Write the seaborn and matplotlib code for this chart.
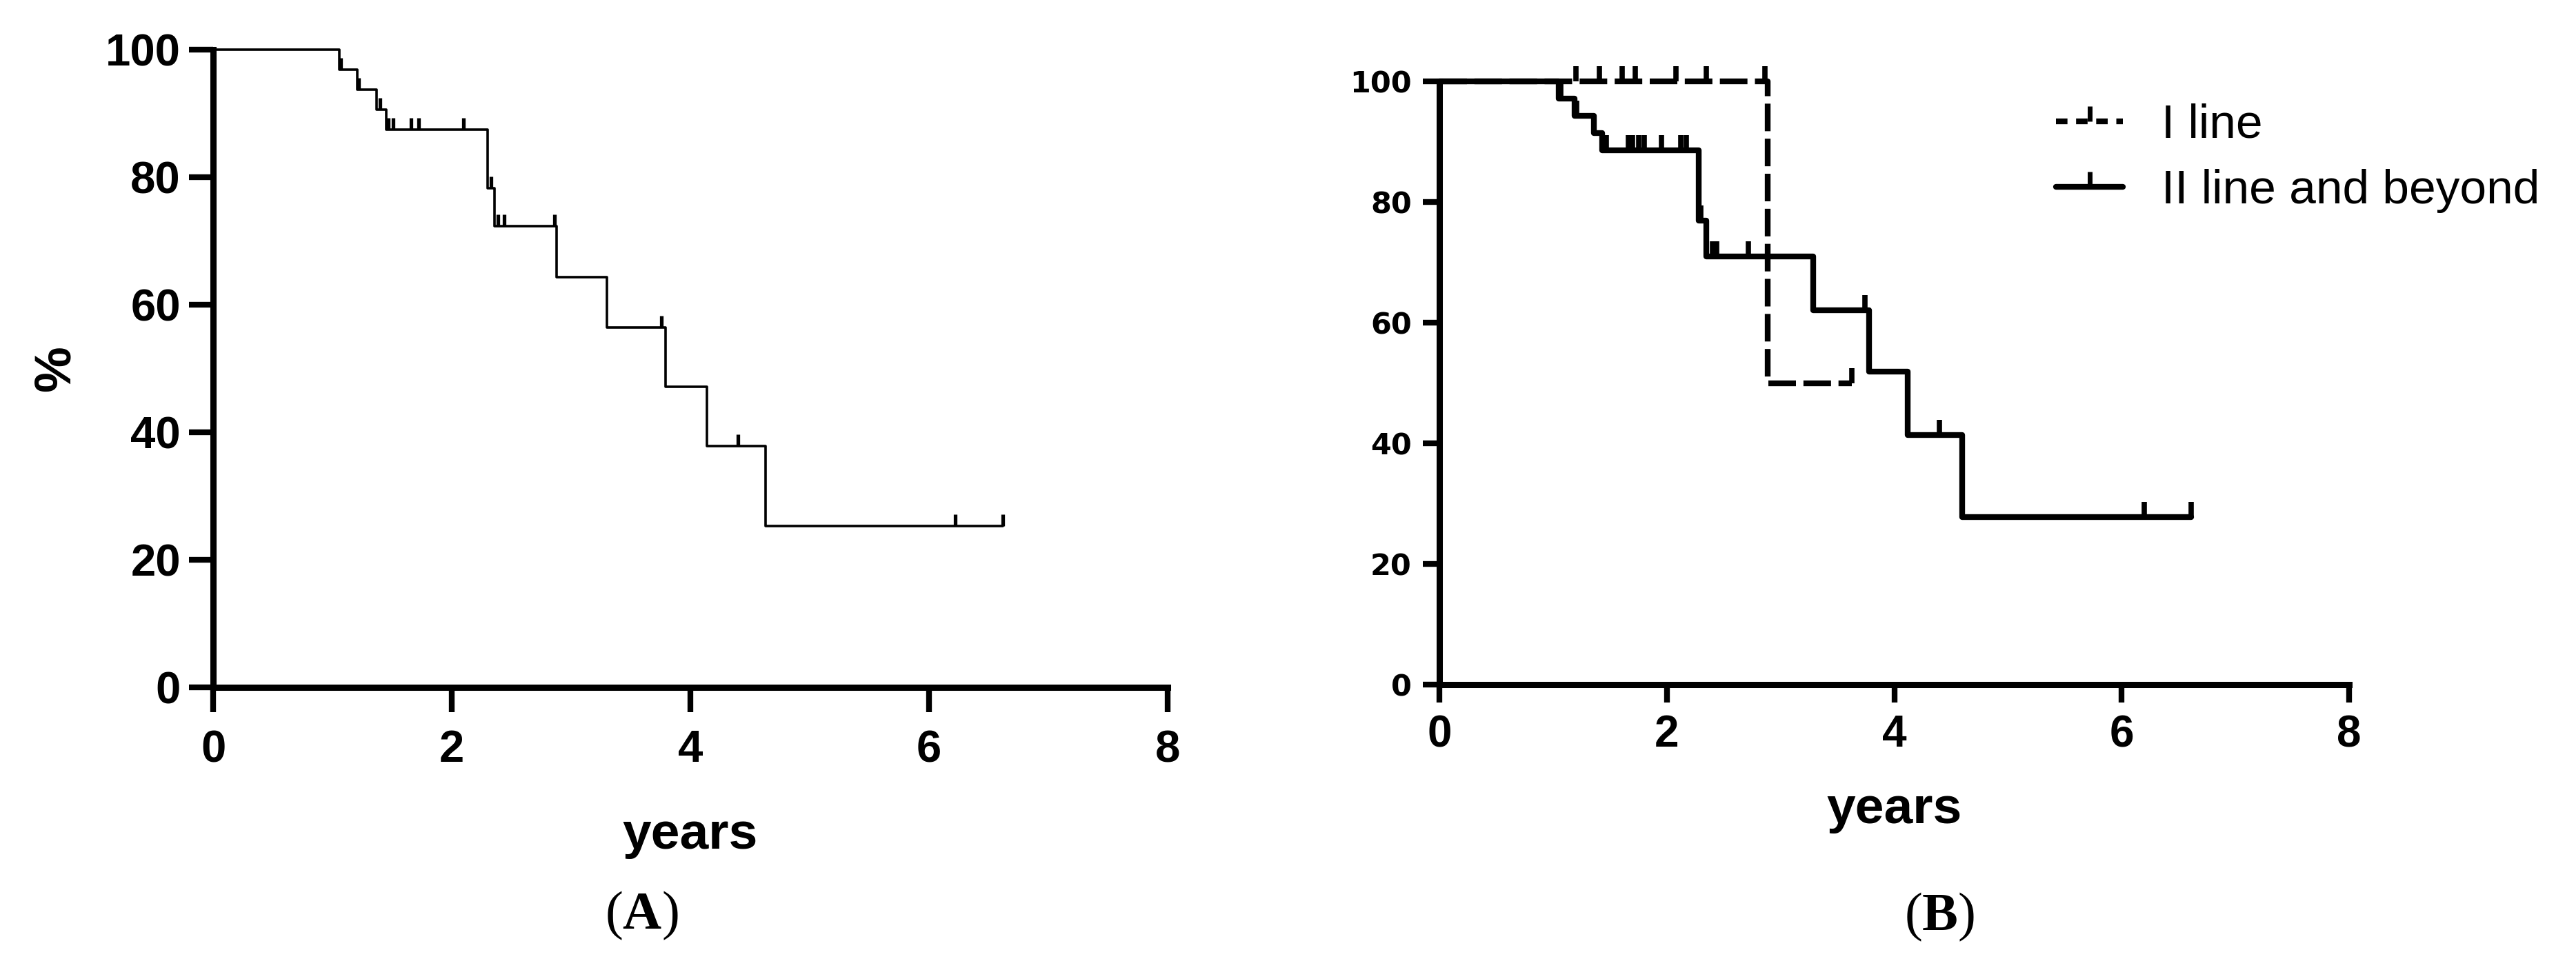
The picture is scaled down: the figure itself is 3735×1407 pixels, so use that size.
import numpy as np
import pandas as pd
import matplotlib
matplotlib.use("Agg")
import matplotlib.pyplot as plt
from matplotlib.lines import Line2D
import seaborn as sns

# --- data (years, % surviving) ---
# panel A: whole cohort
a_times = [0, 1.06, 1.21, 1.37, 1.45, 2.30, 2.36, 2.88, 3.30, 3.79, 4.14, 4.63, 6.62]
a_surv = [100, 96.9, 93.75, 90.6, 87.5, 78.3, 72.3, 64.3, 56.4, 47.1, 37.8, 25.3, 25.3]
a_censor = [1.07, 1.22, 1.40, 1.47, 1.51, 1.66, 1.72, 2.10, 2.33, 2.39, 2.44, 2.86,
            3.76, 4.40, 6.22, 6.62]

# panel B: I line vs II line and beyond
b1_times = [0, 2.89, 3.63]
b1_surv = [100, 50, 50]
b1_censor = [1.20, 1.41, 1.61, 1.72, 2.08, 2.35, 2.86, 3.63]

b2_times = [0, 1.05, 1.19, 1.36, 1.43, 2.28, 2.35, 3.29, 3.78, 4.12, 4.60, 6.61]
b2_surv = [100, 97.1, 94.3, 91.4, 88.6, 76.9, 71.0, 62.1, 51.9, 41.4, 27.8, 27.8]
b2_censor = [1.07, 1.21, 1.47, 1.66, 1.70, 1.75, 1.80, 1.95, 2.12, 2.17, 2.30, 2.40,
             2.44, 2.72, 3.74, 4.40, 6.20, 6.61]

x_ticks = [0, 2, 4, 6, 8]
y_ticks = [0, 20, 40, 60, 80, 100]
group_labels = ["I line", "II line and beyond"]


def surv_at(times, surv, t):
    # level of the step function at time t
    idx = np.searchsorted(times, t, side="right") - 1
    return np.asarray(surv)[idx]


def km_curve(ax, times, surv, censor, lw, ls, tick_s, tick_w):
    df = pd.DataFrame({"t": times, "s": surv})
    sns.lineplot(data=df, x="t", y="s", drawstyle="steps-post", color="black",
                 linewidth=lw, linestyle=ls, ax=ax, clip_on=False, zorder=3)
    cdf = pd.DataFrame({"t": censor, "s": surv_at(times, surv, censor)})
    sns.scatterplot(data=cdf, x="t", y="s", marker=2, s=tick_s, color="black",
                    edgecolor="black", linewidth=tick_w, ax=ax, clip_on=False, zorder=4)


def style_axes(ax, tick_len, x_size, y_size, y_family, x_pad, y_pad):
    ax.set_xlim(0, 8)
    ax.set_ylim(0, 100)
    ax.set_xticks(x_ticks)
    ax.set_yticks(y_ticks)
    for side in ["top", "right"]:
        ax.spines[side].set_visible(False)
    for side in ["left", "bottom"]:
        ax.spines[side].set_linewidth(6.5)
        ax.spines[side].set_color("black")
    ax.tick_params(axis="both", direction="out", width=6, color="black", labelcolor="black")
    ax.tick_params(axis="x", length=tick_len[0], labelsize=x_size, pad=x_pad)
    ax.tick_params(axis="y", length=tick_len[1], labelsize=y_size, pad=y_pad)
    for lab in ax.get_xticklabels():
        lab.set_fontweight("bold")
    for lab in ax.get_yticklabels():
        lab.set_fontweight("bold")
        lab.set_family(y_family)
    ax.set_xlabel("")
    ax.set_ylabel("")


sns.set_style("ticks")
plt.rcParams["font.family"] = ["Liberation Sans", "DejaVu Sans"]
plt.rcParams["text.color"] = "black"
plt.rcParams["axes.labelcolor"] = "black"
plt.rcParams["mathtext.fontset"] = "custom"
plt.rcParams["mathtext.rm"] = "Liberation Serif"
plt.rcParams["mathtext.bf"] = "Liberation Serif:bold"

W, H = 3735, 1407
fig = plt.figure(figsize=(W / 100, H / 100), dpi=100)
fig.patch.set_facecolor("white")

# ---- panel A ----
axA = fig.add_axes([309 / W, 1 - 997 / H, 1384 / W, 925 / H])
km_curve(axA, a_times, a_surv, a_censor, lw=2.6, ls="-", tick_s=150, tick_w=3.8)
style_axes(axA, (26, 25), 47, 47, "Liberation Sans", 18, 9)
axA.set_xlabel("years", fontsize=54, fontweight="bold")
axA.xaxis.set_label_coords(0.5, -0.195)
axA.xaxis.label.set_va("top")
axA.set_ylabel("%", fontsize=54, fontweight="bold")
axA.yaxis.set_label_coords(-0.14, 0.5)

# ---- panel B ----
axB = fig.add_axes([2087 / W, 1 - 993 / H, 1319 / W, 875 / H])
km_curve(axB, b2_times, b2_surv, b2_censor, lw=6, ls="-", tick_s=260, tick_w=5.5)
km_curve(axB, b1_times, b1_surv, b1_censor, lw=6, ls=(0, (4.8, 1.3)), tick_s=260, tick_w=5.5)
style_axes(axB, (19, 17), 46, 31, "DejaVu Sans", 12, 12)
axB.set_xlabel("years", fontsize=54, fontweight="bold")
axB.xaxis.set_label_coords(0.5, -0.168)
axB.xaxis.label.set_va("top")

handles = [
    Line2D([0], [0], color="black", lw=6, linestyle=(0, (2.0, 1.5)), marker=2,
           markersize=16, markeredgewidth=5),
    Line2D([0], [0], color="black", lw=6, linestyle="-", marker=2,
           markersize=16, markeredgewidth=5),
]
fig.legend(handles, group_labels, loc="upper left", bbox_to_anchor=(2981 / W, 1 - 150 / H),
           frameon=False, fontsize=50, handlelength=1.4, handletextpad=0.8,
           labelspacing=0.45, borderpad=0, borderaxespad=0, numpoints=1)

# ---- panel captions ----
fig.text(930 / W, 1 - 1328 / H, r"($\mathbf{A}$)", ha="center", va="center",
         fontsize=56, family="Liberation Serif")
fig.text(2812 / W, 1 - 1330 / H, r"($\mathbf{B}$)", ha="center", va="center",
         fontsize=56, family="Liberation Serif")

fig.savefig("out.png", dpi=100, facecolor="white")
